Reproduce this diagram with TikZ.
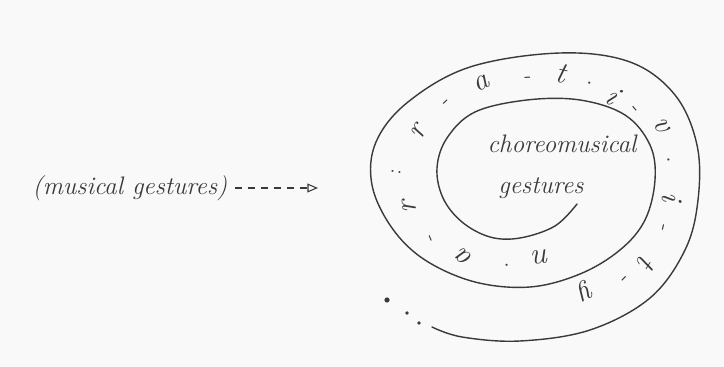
\documentclass[tikz,border=0pt]{standalone}
\usepackage{tikz}
\usetikzlibrary{arrows.meta}
\definecolor{cInk}{HTML}{3A3A3A}
\definecolor{cPaper}{HTML}{F8F9F8}
\tikzset{
  hand/.style={font=\Large\itshape, text=cInk, inner sep=0pt},
  ringletter/.style={font=\LARGE\itshape, text=cInk, inner sep=0pt, anchor=center},
  ringsep/.style={font=\large, text=cInk, inner sep=0pt, anchor=center},
  spiral/.style={draw=cInk, line width=0.8pt, line cap=round, line join=round},
  arrow/.style={-{Triangle[open, length=6pt, width=5pt]}, draw=cInk, line width=0.6pt,
                dash pattern=on 1.5mm off 1.1mm},
}

\begin{document}
\begin{tikzpicture}[x=0.02cm, y=-0.02cm]

  % Paper
  \fill[cPaper] (0,0) rectangle (724,367);
  \useasboundingbox (0,0) rectangle (724,367);

  % Left label and arrow
  \node[hand] (mus) at (130,188) {(musical gestures)};
  \coordinate (tip) at (318,188);
  \draw[arrow] ([xshift=4pt]mus.east) -- (tip);

  % Centre text
  \node[hand] (chor) at (562,144) {choreomusical};
  \node[hand] (gest) at (541,188) {gestures};

  % Spiral, starting from the end of the centre text
  \draw[spiral] plot[smooth, tension=0.6] coordinates {
    (577,204) (555,226) (520,238) (490,237) (462,222) (443,198) (437,168)
    (447,138) (475,112) (527,100) (580,100) (625,115) (650,145) (655,180)
    (645,220) (620,250) (580,274) (530,287) (475,282) (425,260) (392,228)
    (372,185) (376,142) (408,102) (470,67) (560,53) (630,62) (675,95)
    (697,145) (698,200) (685,250) (650,298) (590,330) (520,341) (462,337)
    (432,327)};

  % Trailing dots
  \fill[cInk] (387,300) circle (2.6);
  \fill[cInk] (407,313) circle (1.9);
  \fill[cInk] (419,323) circle (1.9);

  % Letters along the spiral band
  \node[ringletter, rotate=-174] (l1)  at (542,257) {n};
  \node[ringsep, rotate=158]     (s1)  at (507,265) {$\cdot$};
  \node[ringletter, rotate=140]  (l2)  at (464,258) {a};
  \node[ringsep, rotate=112]     (s2)  at (432,237) {-};
  \node[ringletter, rotate=95]   (l3)  at (409,207) {r};
  \node[ringsep, rotate=81]      (s3)  at (396,172) {:};
  \node[ringletter, rotate=62]   (l4)  at (419,132) {r};
  \node[ringsep, rotate=43]      (s4)  at (447,103) {-};
  \node[ringletter, rotate=26]   (l5)  at (481,83)  {a};
  \node[ringsep, rotate=3]       (s5)  at (528,80)  {-};
  \node[ringletter, rotate=-12]  (l6)  at (561,73)  {t};
  \node[ringsep, rotate=-27]     (s6)  at (589,84)  {$\cdot$};
  \node[ringletter, rotate=-38]  (l7)  at (613,96)  {i};
  \node[ringsep, rotate=-49]     (s7)  at (634,110) {-};
  \node[ringletter, rotate=-61]  (l8)  at (662,125) {v};
  \node[ringsep, rotate=-75]     (s8)  at (668,160) {$\cdot$};
  \node[ringletter, rotate=-91]  (l9)  at (672,197) {i};
  \node[ringsep, rotate=-104]    (s9)  at (661,227) {-};
  \node[ringletter, rotate=-122] (l10) at (647,263) {t};
  \node[ringsep, rotate=-134]    (s10) at (622,278) {-};
  \node[ringletter, rotate=-152] (l11) at (586,290) {y};

\end{tikzpicture}
\end{document}
